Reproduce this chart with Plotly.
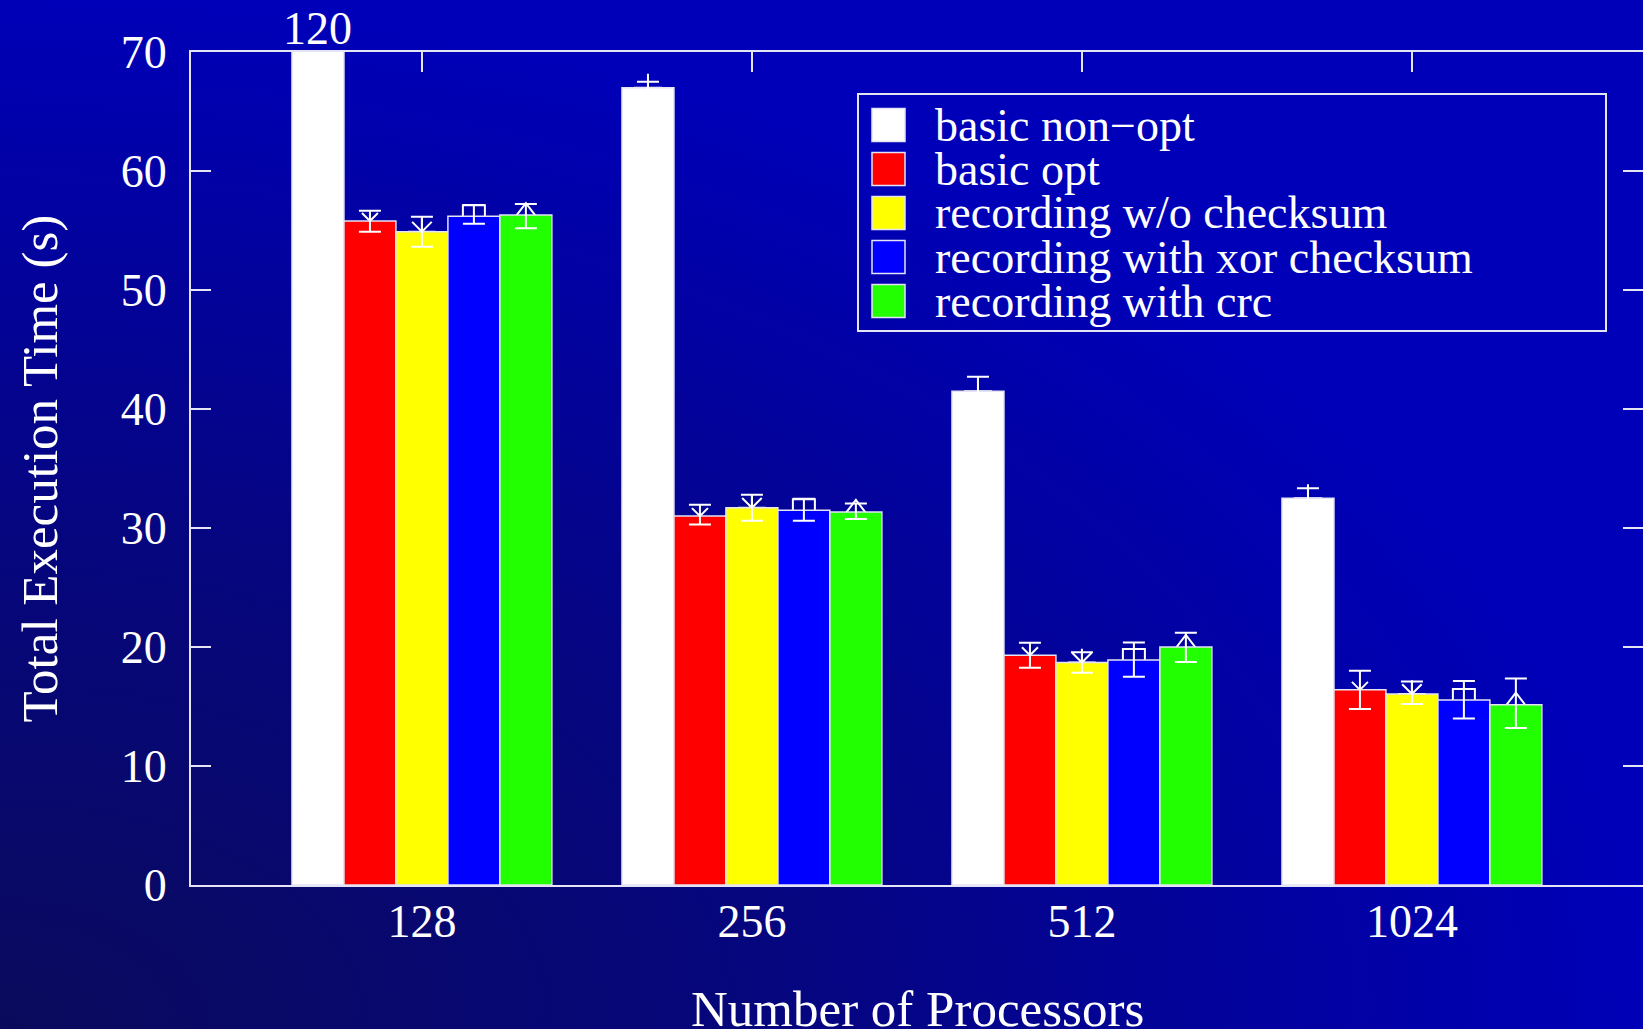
import base64
import plotly.graph_objects as go

# ---- data -------------------------------------------------------------
processors = ["128", "256", "512", "1024"]
series_names = ["basic non\u2212opt", "basic opt", "recording w/o checksum",
                "recording with xor checksum", "recording with crc"]

basic_non_opt = [120.0, 67.0, 41.5, 32.5]
basic_non_opt_plus = [0.0, 0.5, 1.2, 0.85]
basic_non_opt_minus = [0.0, 0.5, 1.2, 0.85]

basic_opt = [55.8, 31.0, 19.3, 16.4]
basic_opt_plus = [0.87, 0.95, 1.05, 1.6]
basic_opt_minus = [0.9, 0.7, 1.05, 1.6]

recording_no_checksum = [54.9, 31.7, 18.7, 16.05]
recording_no_checksum_plus = [1.26, 1.1, 0.85, 1.05]
recording_no_checksum_minus = [1.26, 1.1, 0.87, 0.85]

recording_xor = [56.2, 31.5, 18.9, 15.55]
recording_xor_plus = [0.95, 0.95, 1.48, 1.6]
recording_xor_minus = [0.64, 0.9, 1.4, 1.55]

recording_crc = [56.3, 31.35, 20.0, 15.15]
recording_crc_plus = [0.92, 0.7, 1.2, 2.2]
recording_crc_minus = [1.12, 0.6, 1.27, 1.95]

y_ticks = [0, 10, 20, 30, 40, 50, 60, 70]

# ---- styling ----------------------------------------------------------
series_values = [basic_non_opt, basic_opt, recording_no_checksum, recording_xor, recording_crc]
series_plus = [basic_non_opt_plus, basic_opt_plus, recording_no_checksum_plus,
               recording_xor_plus, recording_crc_plus]
series_minus = [basic_non_opt_minus, basic_opt_minus, recording_no_checksum_minus,
                recording_xor_minus, recording_crc_minus]
colors = ["#ffffff", "#ff0000", "#ffff00", "#0000ff", "#22ff00"]
symbols = ["cross-thin-open", "x-thin-open", "asterisk-open", "square-open", "triangle-up-open"]
symbol_sizes = [20, 16, 23, 22, 24]

W, H = 1643, 1029
ML, MR, MT, MB = 191, 0, 52, 144
PW, PH = W - ML - MR, H - MT - MB

FONT = "Liberation Serif"
FS = 46
TITLE_FS = 51
LINE = "#e4e4f4"

BAR_W = 0.1575
GROUP_START = -0.394
x_pos = list(range(1, len(processors) + 1))


def px_x(p):
    return (p - ML) / PW


def px_y(p):
    return (H - MB - p) / PH


fig = go.Figure()

# point symbols sit on the base axes so the bar fills cover their lower halves
for k, name in enumerate(series_names):
    off = GROUP_START + k * BAR_W
    fig.add_trace(go.Scatter(
        x=[x + off + BAR_W / 2 for x in x_pos], y=series_values[k],
        mode="markers", showlegend=False, hoverinfo="skip",
        marker=dict(symbol=symbols[k], size=symbol_sizes[k], color="white",
                    line=dict(color="white", width=2)),
        xaxis="x", yaxis="y",
    ))

# bars with error bars on the overlaying axes
for k, name in enumerate(series_names):
    off = GROUP_START + k * BAR_W
    fig.add_trace(go.Bar(
        x=x_pos, y=series_values[k], name=name, width=BAR_W, offset=off,
        marker=dict(color=colors[k], line=dict(color=LINE, width=1.5)),
        error_y=dict(type="data", symmetric=False, array=series_plus[k],
                     arrayminus=series_minus[k], color="white", thickness=2, width=11),
        showlegend=False, xaxis="x2", yaxis="y2",
    ))

axis_common = dict(showline=True, linecolor=LINE, linewidth=2, ticks="inside",
                   ticklen=20, tickwidth=2, tickcolor=LINE, mirror="ticks",
                   showgrid=False, zeroline=False, automargin=False,
                   layer="below traces",
                   tickfont=dict(family=FONT, size=FS, color="white"))

fig.update_layout(
    width=W, height=H,
    margin=dict(l=ML, r=MR, t=MT, b=MB, pad=0),
    paper_bgcolor="#0404a0", plot_bgcolor="rgba(0,0,0,0)",
    barmode="overlay", showlegend=False,
    xaxis=dict(range=[0.3, 4.7], tickvals=x_pos, ticktext=processors,
               ticklabelstandoff=-5, **axis_common),
    yaxis=dict(range=[0, 70], tickvals=y_ticks, ticklabelstandoff=13, **axis_common),
    xaxis2=dict(range=[0.3, 4.7], overlaying="x", visible=False),
    yaxis2=dict(range=[0, 70], overlaying="y", visible=False),
)

# background: dark navy in the lower-left fading to bright blue
svg = (
    f'<svg xmlns="http://www.w3.org/2000/svg" width="{W}" height="{H}" '
    f'viewBox="0 0 {W} {H}" preserveAspectRatio="none">'
    '<defs><radialGradient id="g" cx="0" cy="1" r="1" gradientUnits="objectBoundingBox">'
    '<stop offset="0" stop-color="#0a0a5c"/>'
    '<stop offset="0.45" stop-color="#06067c"/>'
    '<stop offset="1" stop-color="#0000b8"/>'
    '</radialGradient></defs>'
    f'<rect width="{W}" height="{H}" fill="url(#g)"/></svg>'
)
bg_src = "data:image/svg+xml;base64," + base64.b64encode(svg.encode()).decode()
fig.add_layout_image(dict(source=bg_src, xref="paper", yref="paper",
                          x=px_x(0), y=px_y(0), sizex=W / PW, sizey=H / PH,
                          xanchor="left", yanchor="top", sizing="stretch",
                          layer="below"))

# value of the clipped bar
fig.add_annotation(x=x_pos[0] + GROUP_START + BAR_W / 2, y=70, xref="x", yref="y",
                   text=f"{basic_non_opt[0]:g}", showarrow=False, yanchor="bottom",
                   yshift=-4, font=dict(family=FONT, size=FS, color="white"))

# axis titles
fig.add_annotation(x=0.5, y=px_y(1009), xref="paper", yref="paper",
                   text="Number of Processors", showarrow=False,
                   xanchor="center", yanchor="middle",
                   font=dict(family=FONT, size=TITLE_FS, color="white"))
fig.add_annotation(x=px_x(39), y=0.5, xref="paper", yref="paper",
                   text="Total Execution Time (s)", showarrow=False, textangle=-90,
                   xanchor="center", yanchor="middle",
                   font=dict(family=FONT, size=TITLE_FS, color="white"))

# legend box
fig.add_shape(type="rect", xref="paper", yref="paper",
              x0=px_x(858), x1=px_x(1606), y0=px_y(331), y1=px_y(94),
              line=dict(color=LINE, width=2), fillcolor="rgba(0,0,0,0)")
for k, name in enumerate(series_names):
    cy = 125 + 44 * k
    fig.add_shape(type="rect", xref="paper", yref="paper",
                  x0=px_x(872), x1=px_x(905), y0=px_y(cy + 16.5), y1=px_y(cy - 16.5),
                  line=dict(color=LINE, width=1.5), fillcolor=colors[k])
    fig.add_annotation(x=px_x(933), y=px_y(cy), xref="paper", yref="paper",
                       text=name, showarrow=False, xanchor="left", yanchor="middle",
                       font=dict(family=FONT, size=FS, color="white"))

fig.write_html("out.html")
